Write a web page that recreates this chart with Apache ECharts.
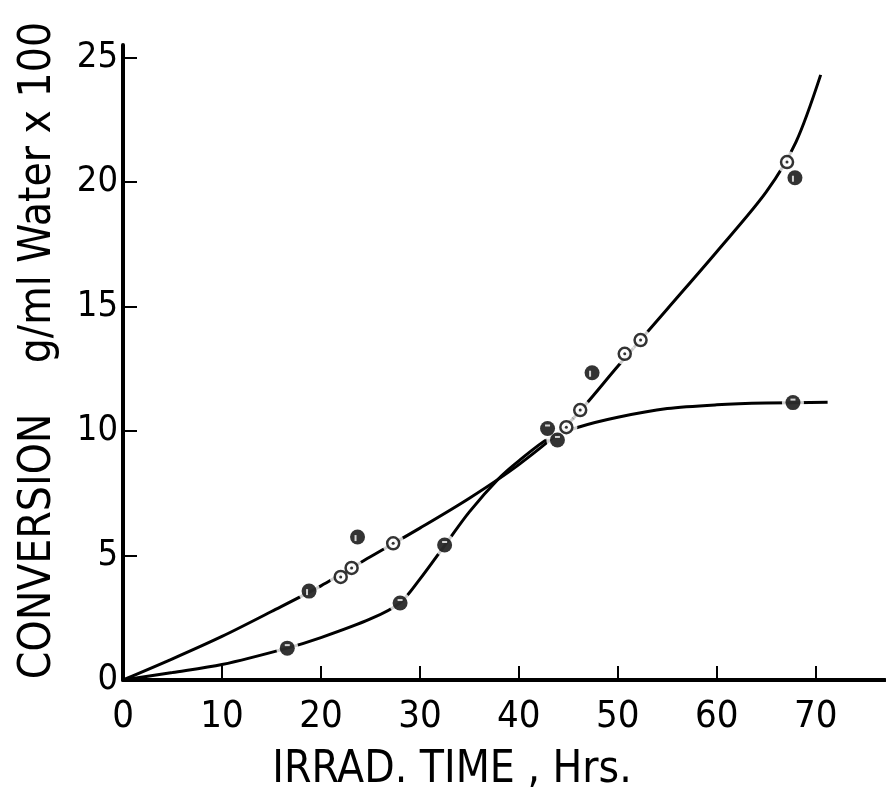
<!DOCTYPE html>
<html>
<head>
<meta charset="utf-8">
<script src="https://cdn.jsdelivr.net/npm/echarts@6/dist/echarts.min.js"></script>
<style>
  html, body { margin: 0; padding: 0; background: #fff; }
  #chart { width: 886px; height: 788px; }
</style>
</head>
<body>
<div id="chart"></div>
<script>
// fitted curves
const upperCurveX = [0, 5, 10, 15, 20, 25, 30, 35, 40, 45, 50, 55, 60, 65, 68, 70.5];
const upperCurveY = [0, 0.85, 1.75, 2.75, 3.78, 4.95, 6.1, 7.3, 8.65, 10.3, 12.6, 14.9, 17.2, 19.6, 21.6, 24.3];
const lowerCurveX = [0, 5, 10, 16.6, 20, 25, 28, 30, 32.5, 35, 38, 40, 43, 46, 50, 55, 60, 65, 71.2];
const lowerCurveY = [0, 0.3, 0.62, 1.28, 1.7, 2.45, 3.1, 4.05, 5.4, 6.75, 8.1, 8.8, 9.7, 10.15, 10.55, 10.9, 11.05, 11.12, 11.15];

// measured points
const openX = [22.0, 23.1, 27.3, 44.8, 46.2, 50.7, 52.3, 67.1];
const openY = [4.14, 4.5, 5.49, 10.15, 10.84, 13.1, 13.65, 20.8];
const halfX = [18.8, 23.7, 47.4, 67.9];
const halfY = [3.57, 5.74, 12.34, 20.17];
const filledX = [16.6, 28.0, 32.5, 42.9, 43.9, 67.7];
const filledY = [1.28, 3.09, 5.42, 10.1, 9.64, 11.14];

const xTicks = [0, 10, 20, 30, 40, 50, 60, 70];
const yTicks = [0, 5, 10, 15, 20, 25];

const pairs = (xs, ys) => xs.map((x, i) => [x, ys[i]]);
const openPts = pairs(openX, openY);
const halfPts = pairs(halfX, halfY);
const filledPts = pairs(filledX, filledY);
const allPts = openPts.concat(halfPts, filledPts);

const font = "'DejaVu Sans Condensed', 'Liberation Sans', sans-serif";

const chart = echarts.init(document.getElementById("chart"));

const options = {
  animation: false,
  backgroundColor: "#fff",
  grid: { left: 123, right: 1, top: 45, bottom: 108, containLabel: false, outerBoundsMode: "none" },
  xAxis: {
    type: "value",
    min: 0,
    max: 77,
    interval: 10,
    name: "IRRAD. TIME , Hrs.",
    nameLocation: "middle",
    nameGap: 69,
    nameTextStyle: { color: "#000", fontSize: 44, fontFamily: font, padding: [0, 104, 0, 0] },
    axisLine: { lineStyle: { color: "#000", width: 4 } },
    axisTick: { inside: true, length: 14, customValues: xTicks, lineStyle: { color: "#000", width: 2 } },
    axisLabel: { color: "#000", fontSize: 38, fontFamily: font, margin: 18, customValues: xTicks },
    splitLine: { show: false }
  },
  yAxis: {
    type: "value",
    min: 0,
    max: 25.5,
    interval: 5,
    name: "CONVERSION    g/ml Water x 100",
    nameLocation: "middle",
    nameRotate: 90,
    nameGap: 62,
    nameTextStyle: { color: "#000", fontSize: 44, fontFamily: font, padding: [0, 0, 0, 24] },
    axisLine: { lineStyle: { color: "#000", width: 4 } },
    axisTick: { inside: true, length: 14, customValues: yTicks, lineStyle: { color: "#000", width: 2 } },
    axisLabel: { color: "#000", fontSize: 36, fontFamily: font, margin: 5, customValues: yTicks },
    splitLine: { show: false }
  },
  series: [
    {
      type: "line",
      data: pairs(upperCurveX, upperCurveY),
      smooth: 0.3,
      showSymbol: false,
      lineStyle: { color: "#000", width: 3 },
      z: 1
    },
    {
      type: "line",
      data: pairs(lowerCurveX, lowerCurveY),
      smooth: 0.3,
      showSymbol: false,
      lineStyle: { color: "#000", width: 3 },
      z: 1
    },
    // white halo so the curves break around the points
    {
      type: "scatter",
      data: allPts,
      symbol: "circle",
      symbolSize: 22,
      itemStyle: { color: "#fff" },
      z: 2
    },
    {
      type: "scatter",
      data: openPts,
      symbol: "circle",
      symbolSize: 12,
      itemStyle: { color: "#fff", borderColor: "#000", borderWidth: 2.5 },
      z: 3
    },
    {
      type: "scatter",
      data: openPts,
      symbol: "circle",
      symbolSize: 3,
      itemStyle: { color: "#000" },
      z: 4
    },
    {
      type: "scatter",
      data: filledPts.concat(halfPts),
      symbol: "circle",
      symbolSize: 15,
      itemStyle: { color: "#000" },
      z: 3
    },
    {
      type: "scatter",
      data: filledPts,
      symbol: "rect",
      symbolSize: [5, 2],
      symbolOffset: [0, -3],
      itemStyle: { color: "#fff" },
      z: 4
    },
    {
      type: "scatter",
      data: halfPts,
      symbol: "rect",
      symbolSize: [2, 6],
      symbolOffset: [-2, 1],
      itemStyle: { color: "#fff" },
      z: 4
    }
  ]
};

chart.setOption(options);
window.addEventListener("resize", () => chart.resize());
</script>
</body>
</html>
